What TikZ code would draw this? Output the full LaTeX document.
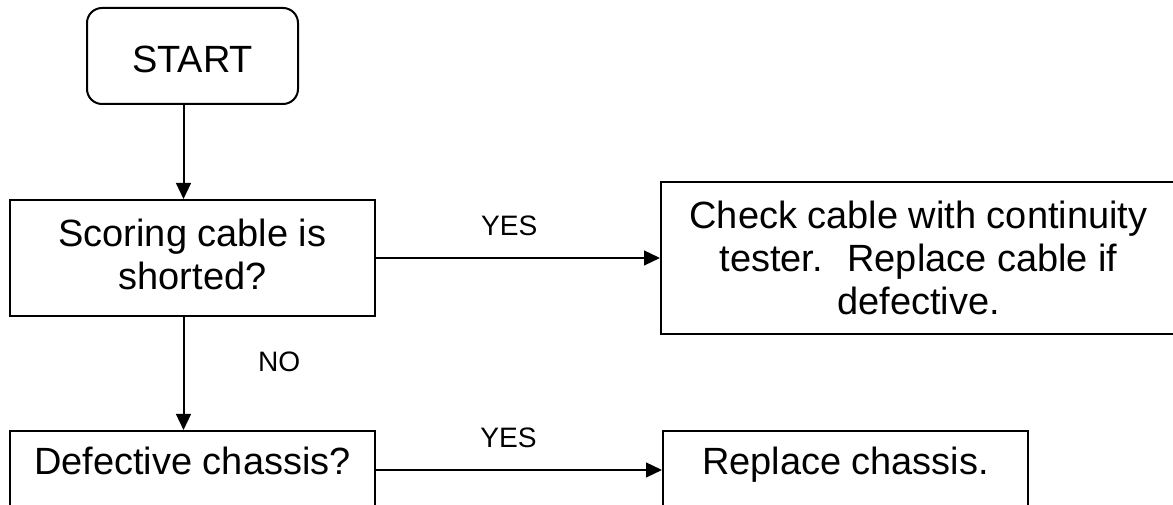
\documentclass[tikz,border=0pt]{standalone}
\usepackage{fontspec}
\setmainfont{Liberation Sans}
\usetikzlibrary{arrows.meta}
\usetikzlibrary{positioning}

\begin{document}
\begin{tikzpicture}[
  box/.style={draw=black,line width=0.05cm,inner sep=0pt,align=center,font=\fontsize{27}{30.6}\selectfont},
  lowbox/.style={box,text height=19.5pt,text depth=12.4pt},
  flow/.style={-{Triangle[length=0.4cm,width=0.37cm]},black,line width=0.05cm},
  answer/.style={font=\fontsize{20}{24}\selectfont,text=black,inner sep=0pt}
]
\clip (0,0) rectangle (29.325,12.625);

\node[box,rounded corners=0.375cm,minimum width=5.275cm,minimum height=2.4cm,text height=23.6pt,text depth=0pt] (start) at (4.8125,11.225) {START};
\node[box,minimum width=9.125cm,minimum height=2.9cm,text depth=5.7pt] (scoring) at (4.8125,6.175) {Scoring cable is\\shorted?};
\node[box,minimum width=12.875cm,minimum height=3.8cm] (check) at (22.9625,6.175) {Check cable with continuity\\tester. \ Replace cable if\\defective.};
\node[lowbox,minimum width=9.125cm,minimum height=1.95cm] (defective) at (4.8125,0.875) {Defective chassis?};
\node[lowbox,minimum width=9.125cm,minimum height=1.95cm] (replace) at (21.1375,0.875) {Replace chassis.};

\draw[flow] ([xshift=-0.225cm]start.south) -- ([xshift=-0.225cm]scoring.north);
\draw[flow] (scoring.east) -- node[answer,above=0.53cm,xshift=-0.22cm] (yes1) {YES} (check.west);
\draw[flow] ([xshift=-0.225cm]scoring.south) -- node[answer,pos=0.4,right=1.84cm] (no1) {NO} ([xshift=-0.225cm]defective.north);
\draw[flow] (defective.east) -- node[answer,above=0.54cm,xshift=-0.26cm] (yes2) {YES} (replace.west);

\end{tikzpicture}
\end{document}
